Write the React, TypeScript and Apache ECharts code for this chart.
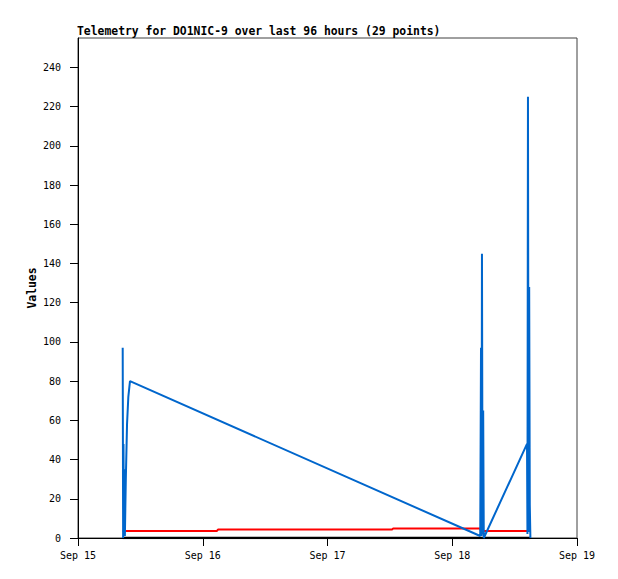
import React, { useEffect, useRef } from "react";
import * as echarts from "echarts";

// Time stamps are "DD HH:MM" in September
const blueTimes = [
  "15 08:36", "15 08:41", "15 08:45", "15 08:50", "15 08:56", "15 09:01",
  "15 09:12", "15 09:26", "15 09:41", "15 10:00",
  "18 05:23", "18 05:32", "18 05:38", "18 05:43", "18 05:50", "18 05:57", "18 06:04",
  "18 14:23", "18 14:28", "18 14:34", "18 14:41", "18 14:48", "18 14:55", "18 15:02",
];
const blueValues = [
  97, 0, 48, 4, 35, 1,
  30, 58, 72, 80,
  1, 97, 1, 145, 2, 65, 0,
  48, 2, 225, 3, 128, 17, 0,
];

const redTimes = [
  "15 08:36", "15 10:00", "16 02:44", "16 02:56", "17 12:25", "17 12:36",
  "18 05:23", "18 05:43", "18 06:04", "18 15:02",
];
const redValues = [3.6, 3.6, 3.6, 4.3, 4.3, 4.8, 4.8, 2, 3.6, 3.6];

const blackTimes = ["15 08:36", "18 15:02"];
const blackValues = [0, 0];

const xTickHours = [0, 24, 48, 72, 96];
const xTickLabels = ["Sep 15", "Sep 16", "Sep 17", "Sep 18", "Sep 19"];
const yTicks = [0, 20, 40, 60, 80, 100, 120, 140, 160, 180, 200, 220, 240];

const toHours = (s: string) => {
  const [d, hm] = s.split(" ");
  const [h, m] = hm.split(":").map(Number);
  return (Number(d) - 15) * 24 + h + m / 60;
};
const pairs = (t: string[], v: number[]) => t.map((s, i) => [toHours(s), v[i]]);

const MONO = "'DejaVu Sans Mono', monospace";

export default function App() {
  const ref = useRef<HTMLDivElement>(null);
  useEffect(() => {
    if (!ref.current) return;
    const chart = echarts.init(ref.current, null, { renderer: "svg" });
    chart.setOption({
      animation: false,
      backgroundColor: "#ffffff",
      title: {
        text: "Telemetry for DO1NIC-9 over last 96 hours (29 points)",
        left: 77,
        top: 25,
        padding: 0,
        textStyle: { fontFamily: MONO, fontWeight: "bold", fontSize: 11.4, color: "#000" },
      },
      grid: {
        left: 78,
        right: 41,
        top: 38,
        bottom: 41,
        show: true,
        borderColor: "#404040",
        borderWidth: 1,
        backgroundColor: "transparent",
      },
      xAxis: {
        type: "value",
        min: 0,
        max: 96,
        interval: 24,
        splitLine: { show: false },
        axisLine: { show: true, onZero: false, lineStyle: { color: "#000", width: 1 } },
        axisTick: { show: true, length: 8, customValues: xTickHours, lineStyle: { color: "#000" } },
        axisLabel: {
          customValues: xTickHours,
          margin: 12,
          fontFamily: MONO,
          fontSize: 10,
          color: "#000",
          formatter: (v: number) => xTickLabels[xTickHours.indexOf(Math.round(v))] ?? "",
        },
      },
      yAxis: {
        type: "value",
        min: 0,
        max: 255,
        interval: 20,
        name: "Values",
        nameLocation: "middle",
        nameGap: 41,
        nameMoveOverlap: false,
        nameTextStyle: { fontFamily: MONO, fontWeight: "bold", fontSize: 11.4, color: "#000" },
        splitLine: { show: false },
        axisLine: { show: true, lineStyle: { color: "#000", width: 1 } },
        axisTick: { show: true, length: 8, customValues: yTicks, lineStyle: { color: "#000" } },
        axisLabel: {
          customValues: yTicks,
          margin: 17,
          fontFamily: MONO,
          fontSize: 10,
          color: "#000",
        },
      },
      series: [
        {
          type: "line",
          data: pairs(redTimes, redValues),
          showSymbol: false,
          lineStyle: { color: "#ff0000", width: 2 },
          itemStyle: { color: "#ff0000" },
        },
        {
          type: "line",
          data: pairs(blackTimes, blackValues),
          showSymbol: false,
          lineStyle: { color: "#000000", width: 2.5 },
          itemStyle: { color: "#000000" },
        },
        {
          type: "line",
          data: pairs(blueTimes, blueValues),
          showSymbol: false,
          lineStyle: { color: "#0066cc", width: 2 },
          itemStyle: { color: "#0066cc" },
        },
      ],
    });
    return () => chart.dispose();
  }, []);
  return (
    <div
      ref={ref}
      style={{ position: "absolute", left: 0, top: 0, width: 618, height: 579, background: "#fff" }}
    />
  );
}
